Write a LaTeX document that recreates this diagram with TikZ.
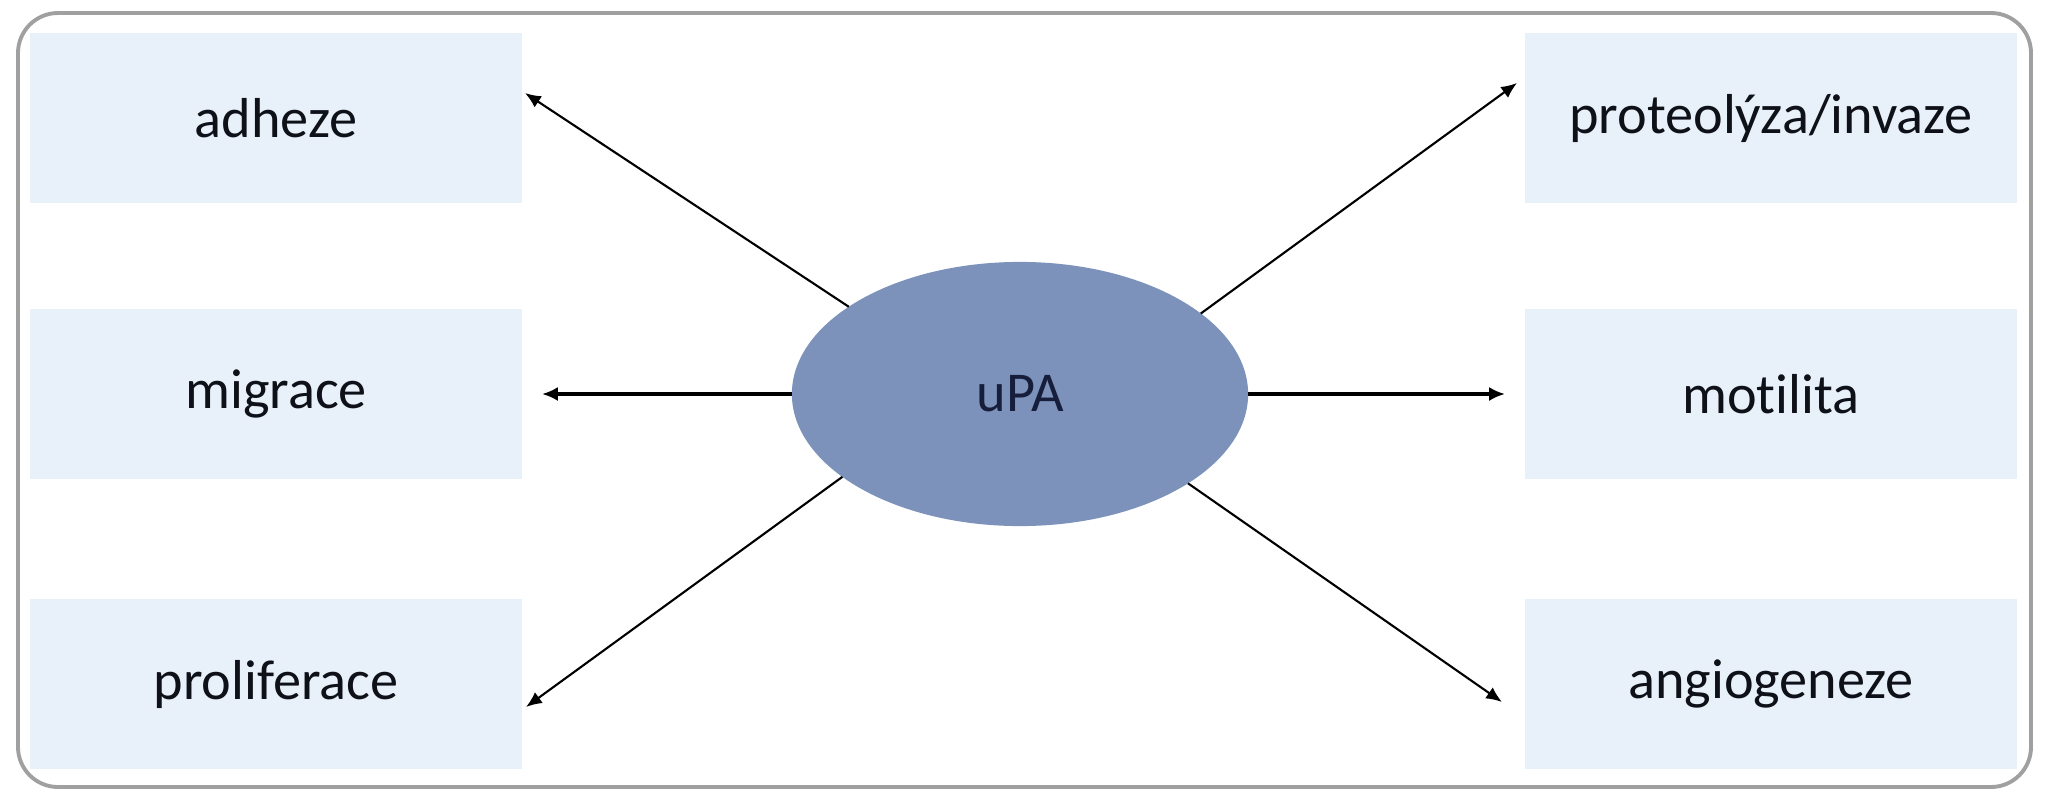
\documentclass[tikz,border=0pt]{standalone}
\usepackage{fontspec}
\setmainfont[Ligatures=NoCommon]{Carlito}
\usetikzlibrary{shapes.geometric,arrows.meta}
\definecolor{boxblue}{RGB}{232,240,250}
\definecolor{ellblue}{RGB}{124,146,187}
\definecolor{framegray}{RGB}{160,160,160}
\definecolor{txtdark}{RGB}{15,17,24}
\definecolor{uptxt}{RGB}{22,30,60}
\begin{document}
\begin{tikzpicture}[x=0.01cm,y=-0.01cm,
  outerframe/.style={draw=framegray,line width=1.1pt,rounded corners=0.4cm},
  itembox/.style={rectangle,fill=boxblue,minimum width=4.92cm,minimum height=1.70cm,inner sep=0pt,outer sep=0pt,text=txtdark,font=\fontsize{16}{19}\selectfont},
  center/.style={ellipse,fill=ellblue,minimum width=4.56cm,minimum height=2.64cm,inner sep=0pt,outer sep=0pt,text=uptxt,font=\fontsize{16}{19}\selectfont},
  diagarrow/.style={-{Latex[length=4.5pt,width=3.8pt]},line width=0.6pt,black},
  horarrow/.style={-{Latex[length=4.5pt,width=4pt]},line width=1pt,black}]
\useasboundingbox (0,0) rectangle (2048,800);
\fill[white] (0,0) rectangle (2048,800);
\draw[outerframe] (18,13) rectangle (2031,787);
% boxes
\node[itembox] (adh) at (276,118) {adheze};
\node[itembox] (mig) at (276,394) {migrace};
\node[itembox] (pro) at (276,684) {proliferace};
\node[itembox] (prot) at (1771,118) {proteolýza/invaze};
\node[itembox] (mot) at (1771,394) {motilita};
\node[itembox] (ang) at (1771,684) {angiogeneze};
% center
\node[center] (e) at (1020,394) {uPA};
% arrow tips
\coordinate (tul) at (525,93);
\coordinate (tl) at (542,394);
\coordinate (tll) at (526,707);
\coordinate (tur) at (1517,83);
\coordinate (tr) at (1505,394);
\coordinate (tlr) at (1502,702);
\draw[diagarrow] (e.153.6) -- (tul);
\draw[horarrow] (e.west) -- (tl);
\draw[diagarrow] (e.205.1) -- (tll);
\draw[diagarrow] (e.24.2) -- (tur);
\draw[horarrow] (e.east) -- (tr);
\draw[diagarrow] (e.-28.9) -- (tlr);
\end{tikzpicture}
\end{document}
